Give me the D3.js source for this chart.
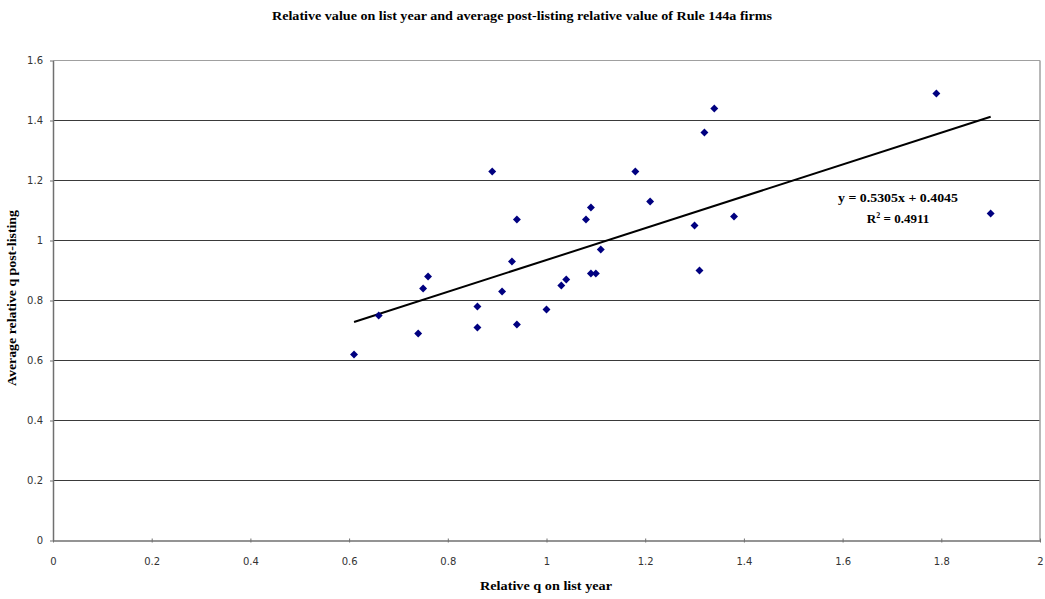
<!DOCTYPE html>
<html><head><meta charset="utf-8">
<script src="https://cdn.jsdelivr.net/npm/d3@7"></script>
<style>body{margin:0;background:#fff}</style>
</head><body><svg id="c" width="1045" height="599"></svg>
<script>
const xValues = [0.61,0.66,0.74,0.75,0.76,0.86,0.86,0.89,0.91,0.93,0.94,0.94,1.00,1.03,1.04,1.08,1.09,1.09,1.10,1.11,1.18,1.21,1.30,1.31,1.32,1.34,1.38,1.79,1.90];
const yValues = [0.62,0.75,0.69,0.84,0.88,0.78,0.71,1.23,0.83,0.93,1.07,0.72,0.77,0.85,0.87,1.07,1.11,0.89,0.89,0.97,1.23,1.13,1.05,0.90,1.36,1.44,1.08,1.49,1.09];
const xTicks = [0,0.2,0.4,0.6,0.8,1,1.2,1.4,1.6,1.8,2];
const yTicks = [0,0.2,0.4,0.6,0.8,1,1.2,1.4,1.6];
const slope = 0.5305, intercept = 0.4045, r2 = 0.4911;
const title = "Relative value on list year and average post-listing relative value of Rule 144a firms";
const xTitle = "Relative q on list year";
const yTitle = "Average relative q post-listing";

const svg = d3.select("#c");
const x = d3.scaleLinear().domain([0,2]).range([53,1040]);
const y = d3.scaleLinear().domain([0,1.6]).range([540.5,60.5]);

// gridlines
svg.append("g").selectAll("line").data(yTicks.filter(d=>d>0)).join("line")
  .attr("x1",x(0)).attr("x2",x(2)).attr("y1",d=>y(d)).attr("y2",d=>y(d))
  .attr("stroke",d=>d===1.6?"#a0a0a0":"#3a3a3a").attr("stroke-width",1);
// right border
svg.append("line").attr("x1",x(2)).attr("x2",x(2)).attr("y1",y(1.6)).attr("y2",y(0))
  .attr("stroke","#a0a0a0").attr("stroke-width",1.5);

// axes
const xAxis = d3.axisBottom(x).tickValues(xTicks).tickFormat(d3.format("")).tickSize(4).tickSizeOuter(0);
const gx = svg.append("g").attr("transform",`translate(0,${y(0)})`).call(xAxis);
gx.select(".domain").attr("stroke","#707070").attr("stroke-width",1.5);
gx.selectAll(".tick line").attr("stroke","#707070").attr("y1",-2).attr("y2",2);
gx.selectAll("text").attr("font-family","Verdana, 'DejaVu Sans', sans-serif").attr("font-size",10).attr("fill","#333").attr("dy","0").attr("y",24);

const yAxis = d3.axisLeft(y).tickValues(yTicks).tickFormat(d3.format("")).tickSize(4).tickSizeOuter(0);
const gy = svg.append("g").attr("transform",`translate(${x(0)},0)`).call(yAxis);
gy.select(".domain").attr("stroke","#707070").attr("stroke-width",1.5);
gy.selectAll(".tick line").attr("stroke","#707070").attr("x1",-3).attr("x2",0);
gy.selectAll("text").attr("font-family","Verdana, 'DejaVu Sans', sans-serif").attr("font-size",10).attr("fill","#333").attr("x",-10);

// trendline
const xmin = d3.min(xValues), xmax = d3.max(xValues);
svg.append("line").attr("x1",x(xmin)).attr("y1",y(slope*xmin+intercept))
  .attr("x2",x(xmax)).attr("y2",y(slope*xmax+intercept))
  .attr("stroke","#000").attr("stroke-width",2);

// points
const pts = xValues.map((v,i)=>({x:v,y:yValues[i]}));
svg.append("g").selectAll("path").data(pts).join("path")
  .attr("d",d3.symbol().type(d3.symbolDiamond2).size(40))
  .attr("transform",d=>`translate(${x(d.x)},${y(d.y)})`)
  .attr("fill","#000080");

// equation
const serif = "'Liberation Serif','Times New Roman',serif";
svg.append("text").attr("x",898).attr("y",202).attr("text-anchor","middle")
  .attr("font-family",serif).attr("font-weight","bold").attr("font-size",13)
  .attr("textLength",120).attr("lengthAdjust","spacingAndGlyphs")
  .text(`y = ${slope}x + ${intercept}`);
const t2 = svg.append("text").attr("x",898).attr("y",223).attr("text-anchor","middle")
  .attr("font-family",serif).attr("font-weight","bold").attr("font-size",13);
t2.append("tspan").text("R");
t2.append("tspan").attr("dy",-5).attr("font-size",8).text("2");
t2.append("tspan").attr("dy",5).text(` = ${r2}`);

// titles
svg.append("text").attr("x",522).attr("y",20).attr("text-anchor","middle")
  .attr("font-family",serif).attr("font-weight","bold").attr("font-size",11.5)
  .attr("textLength",500).attr("lengthAdjust","spacingAndGlyphs").text(title);
svg.append("text").attr("x",546).attr("y",590).attr("text-anchor","middle")
  .attr("font-family",serif).attr("font-weight","bold").attr("font-size",12)
  .attr("textLength",132).attr("lengthAdjust","spacingAndGlyphs").text(xTitle);
svg.append("text").attr("transform","translate(16,298) rotate(-90)").attr("text-anchor","middle")
  .attr("font-family",serif).attr("font-weight","bold").attr("font-size",12.5)
  .attr("textLength",176).attr("lengthAdjust","spacingAndGlyphs")
  .text(yTitle);
</script></body></html>
